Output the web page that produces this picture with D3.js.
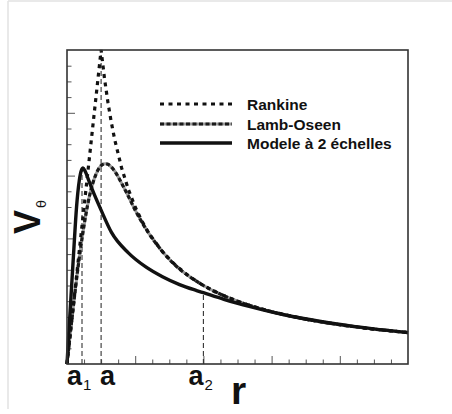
<!DOCTYPE html>
<html>
<head>
<meta charset="utf-8">
<script src="https://cdn.jsdelivr.net/npm/d3@7"></script>
<style>
  body { margin: 0; background: #fff; }
  text { font-family: "Liberation Sans", Arial, sans-serif; fill: #111; }
</style>
</head>
<body>
<div id="chart"></div>
<script>
// values (r and V_theta in plot units)
var rankine = [[0,0],[0.5,5],[0.55,4.545],[0.6,4.167],[0.65,3.846],[0.7,3.571],[0.8,3.125],[0.9,2.778],[1,2.5],[1.1,2.273],[1.2,2.083],[1.4,1.786],[1.6,1.563],[1.8,1.389],[2,1.25],[2.25,1.111],[2.5,1],[2.75,0.909],[3,0.833],[3.5,0.714],[4,0.625],[4.5,0.556],[5,0.5]];
var lambOseen = [[0,0],[0.05,0.5],[0.1,0.98],[0.15,1.44],[0.2,1.85],[0.25,2.21],[0.3,2.52],[0.35,2.77],[0.4,2.95],[0.45,3.08],[0.5,3.16],[0.56,3.19],[0.6,3.18],[0.7,3.07],[0.8,2.88],[0.9,2.67],[1,2.45],[1.2,2.08],[1.4,1.79],[1.6,1.56],[1.8,1.39],[2,1.25],[2.5,1],[3,0.833],[3.5,0.714],[4,0.625],[4.5,0.556],[5,0.5]];
var modele = [[0,0],[0.05,0.92],[0.1,1.82],[0.14,2.5],[0.18,2.92],[0.21,3.08],[0.235,3.12],[0.27,3.06],[0.32,2.92],[0.4,2.7],[0.5,2.45],[0.65,2.1],[0.9,1.77],[1.15,1.55],[1.4,1.39],[1.65,1.265],[1.9,1.17],[2,1.135],[2.3,1.03],[2.7,0.91],[3.2,0.78],[3.7,0.68],[4.2,0.6],[4.7,0.535],[5,0.5]];

var seriesNames = ["Rankine", "Lamb-Oseen", "Modele \u00e0 2 \u00e9chelles"];
var refNames = ["a", "a", "a"];
var refSubs = ["1", "", "2"];
var refR = [0.22, 0.5, 2.0];
var refTop = [3.12, 5, 1.135];

var W = 452, H = 414;
var svg = d3.select("#chart").append("svg")
  .attr("width", W).attr("height", H);

// light outer frame (top and left only)
svg.append("line").attr("x1", 8).attr("y1", 1).attr("x2", W).attr("y2", 1)
  .style("stroke", "#e2e2e2").style("stroke-width", 1.5);
svg.append("line").attr("x1", 8).attr("y1", 1).attr("x2", 8).attr("y2", 409)
  .style("stroke", "#e2e2e2").style("stroke-width", 1.5);

var x = d3.scaleLinear().domain([0, 5]).range([67, 408]);
var y = d3.scaleLinear().domain([0, 5]).range([364, 50]);

// ticks (inside, no labels)
var xMinor = d3.range(0, 5.001, 0.25).filter(function (d) { return Math.abs(d - Math.round(d)) > 0.01; });
var yMinor = d3.range(0, 5.001, 0.25).filter(function (d) { return Math.abs(d - Math.round(d)) > 0.01; });

function styleAxis(g) {
  g.select(".domain").remove();
  g.selectAll("text").remove();
  g.selectAll("line").style("stroke", "#555").style("stroke-width", 1);
}
svg.append("g").attr("transform", "translate(0," + y(0) + ")")
  .call(d3.axisBottom(x).tickValues(d3.range(1, 5)).tickSize(-8)).call(styleAxis);
svg.append("g").attr("transform", "translate(0," + y(0) + ")")
  .call(d3.axisBottom(x).tickValues(xMinor).tickSize(-4.5)).call(styleAxis);
svg.append("g").attr("transform", "translate(" + x(0) + ",0)")
  .call(d3.axisLeft(y).tickValues(d3.range(1, 5)).tickSize(-8)).call(styleAxis);
svg.append("g").attr("transform", "translate(" + x(0) + ",0)")
  .call(d3.axisLeft(y).tickValues(yMinor).tickSize(-4.5)).call(styleAxis);

// dashed reference lines
svg.append("g").selectAll("line").data(refR).enter().append("line")
  .attr("x1", function (d) { return x(d); })
  .attr("x2", function (d) { return x(d); })
  .attr("y1", y(0))
  .attr("y2", function (d, i) { return y(refTop[i]); })
  .style("stroke", "#333").style("stroke-width", 1.1)
  .style("stroke-dasharray", "5,3");

var line = d3.line().x(function (d) { return x(d[0]); }).y(function (d) { return y(d[1]); });
var smooth = d3.line().curve(d3.curveMonotoneX).x(function (d) { return x(d[0]); }).y(function (d) { return y(d[1]); });

// Lamb-Oseen: grey under-stroke with dark dashes
svg.append("path").attr("d", smooth(lambOseen))
  .style("fill", "none").style("stroke", "#999").style("stroke-width", 3);
svg.append("path").attr("d", smooth(lambOseen))
  .style("fill", "none").style("stroke", "#1a1a1a").style("stroke-width", 3.2)
  .style("stroke-dasharray", "4,2.5");
// Rankine: square dots
svg.append("path").attr("d", line(rankine))
  .style("fill", "none").style("stroke", "#111").style("stroke-width", 3.2)
  .style("stroke-dasharray", "4,4.5");
// Modele a 2 echelles: solid
svg.append("path").attr("d", smooth(modele))
  .style("fill", "none").style("stroke", "#111").style("stroke-width", 3.4);

// frame
svg.append("rect").attr("x", x(0)).attr("y", y(5))
  .attr("width", x(5) - x(0)).attr("height", y(0) - y(5))
  .style("fill", "none").style("stroke", "#333").style("stroke-width", 1.6);

// legend
var legY = [104, 124, 143];
var leg = svg.append("g");
leg.selectAll(".lg").data(seriesNames).enter().append("text")
  .attr("x", 247).attr("y", function (d, i) { return legY[i] + 5.5; })
  .style("font-size", "15.5px").style("font-weight", "bold")
  .text(function (d) { return d; });
leg.append("line").attr("x1", 160).attr("x2", 232).attr("y1", legY[0]).attr("y2", legY[0])
  .style("stroke", "#111").style("stroke-width", 3.2).style("stroke-dasharray", "4,4.5");
leg.append("line").attr("x1", 160).attr("x2", 232).attr("y1", legY[1]).attr("y2", legY[1])
  .style("stroke", "#999").style("stroke-width", 3);
leg.append("line").attr("x1", 160).attr("x2", 232).attr("y1", legY[1]).attr("y2", legY[1])
  .style("stroke", "#1a1a1a").style("stroke-width", 3.2).style("stroke-dasharray", "4,2.5");
leg.append("line").attr("x1", 160).attr("x2", 232).attr("y1", legY[2]).attr("y2", legY[2])
  .style("stroke", "#111").style("stroke-width", 3.4);

// x labels a1, a, a2
var lab = svg.append("g").selectAll("text").data(refR).enter().append("text")
  .attr("x", function (d, i) { return x(d) - (refSubs[i] ? 15 : 1); })
  .attr("y", 385)
  .style("font-size", "27px").style("font-weight", "bold");
lab.append("tspan").text(function (d, i) { return refNames[i]; });
lab.append("tspan").attr("dy", 5).attr("dx", 1)
  .style("font-size", "15px").style("font-weight", "normal")
  .text(function (d, i) { return refSubs[i]; });

svg.append("text").attr("x", 231).attr("y", 404)
  .style("font-size", "39px").style("font-weight", "bold").text("r");

// y label V_theta
var yl = svg.append("text").attr("transform", "translate(40,234) rotate(-90)")
  .style("font-size", "36px").style("font-weight", "bold");
yl.append("tspan").text("V");
yl.append("tspan").attr("dy", 6).attr("dx", 2)
  .style("font-size", "13px").style("font-weight", "normal")
  .style("font-family", "DejaVu Sans").text("\u03b8");
</script>
</body>
</html>
